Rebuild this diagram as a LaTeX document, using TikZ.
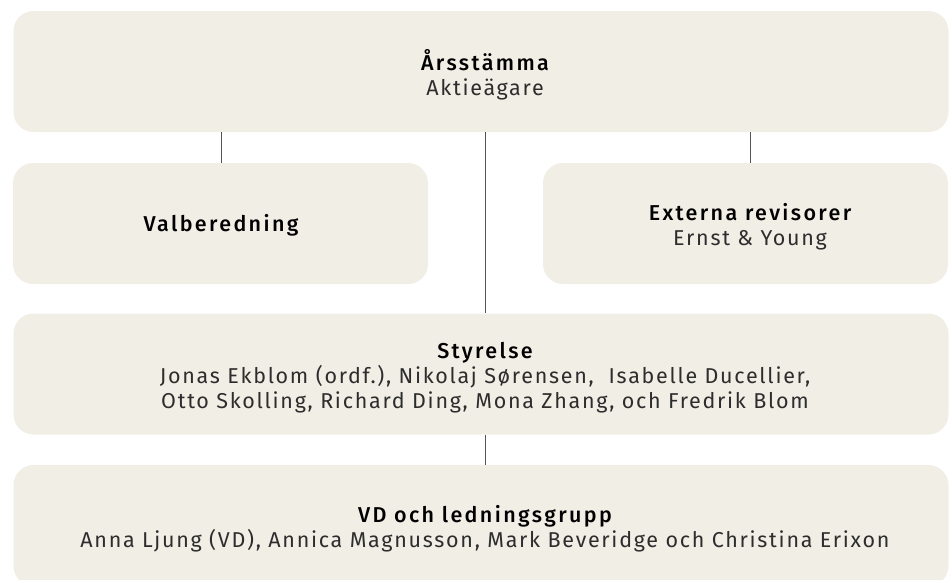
\documentclass[tikz,border=0pt]{standalone}
\usepackage{fontspec}
\setmainfont{Fira Sans}[LetterSpace=8,BoldFont={Fira Sans Medium},
	BoldFeatures={LetterSpace=11}]
\definecolor{boxfill}{RGB}{241,238,230}
\definecolor{linegray}{RGB}{85,85,85}
\definecolor{txtgray}{RGB}{45,45,45}

\begin{document}
\begin{tikzpicture}[x=1pt,y=-1pt,
	orgbox/.style={fill=boxfill,rounded corners=20pt,inner sep=0pt},
	orgtxt/.style={align=center,inner sep=0pt,text=txtgray,
		font=\fontsize{21.5}{25.3}\selectfont},
	orgline/.style={draw=linegray,line width=1pt}]
	\useasboundingbox (0,0) rectangle (949,579);
	% boxes
	\node[orgbox,minimum width=935,minimum height=121] (agm) at (481,71.5) {};
	\node[orgbox,minimum width=415,minimum height=121] (val) at (220.5,223.5) {};
	\node[orgbox,minimum width=405,minimum height=121] (ext) at (745.5,223.5) {};
	\node[orgbox,minimum width=935,minimum height=121] (board) at (481,374) {};
	\node[orgbox,minimum width=935,minimum height=121] (mgmt) at (481,525.5) {};
	% texts
	\node[orgtxt] (agmtxt) at (485,74.5) {{\bfseries\color{black}Årsstämma}\\Aktieägare};
	\node[orgtxt] (valtxt) at (221,225) {\bfseries\color{black}Valberedning};
	\node[orgtxt] (exttxt) at (750,226.5) {{\bfseries\color{black}Externa revisorer}\\Ernst \& Young};
	\node[orgtxt] (boardtxt) at (485,377.5) {{\bfseries\color{black}Styrelse}\\
		Jonas Ekblom (ordf.), Nikolaj Sørensen,\ \ Isabelle Ducellier,\\
		Otto Skolling, Richard Ding, Mona Zhang, och Fredrik Blom};
	\node[orgtxt] (mgmttxt) at (485,529) {{\bfseries\color{black}VD och ledningsgrupp}\\
		Anna Ljung (VD), Annica Magnusson, Mark Beveridge och Christina Erixon};
	% lines
	\draw[orgline] (agm.south -| valtxt) -- (val.north -| valtxt);
	\draw[orgline] (agm.south -| boardtxt) -- (board.north -| boardtxt);
	\draw[orgline] (agm.south -| exttxt) -- (ext.north -| exttxt);
	\draw[orgline] (board.south -| mgmttxt) -- (mgmt.north -| mgmttxt);
\end{tikzpicture}
\end{document}
